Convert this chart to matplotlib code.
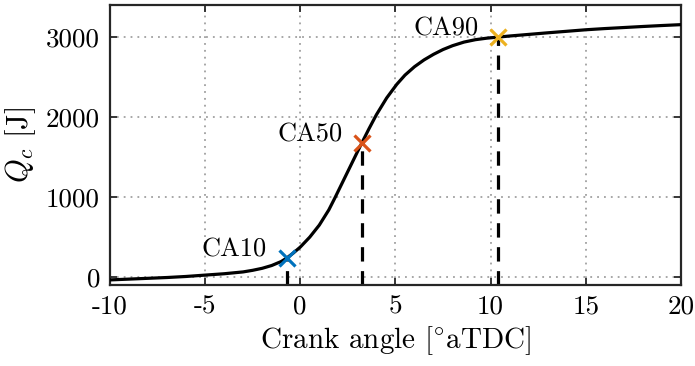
import matplotlib
matplotlib.use("Agg")
import matplotlib.pyplot as plt

plt.rcParams['font.family'] = 'serif'
plt.rcParams['font.serif'] = ['cmr10']
plt.rcParams['mathtext.fontset'] = 'cm'
plt.rcParams['axes.unicode_minus'] = False

# curve
crank = [-10, -9, -8, -7, -6, -5, -4, -3, -2.5, -2, -1.5, -1, -0.7, -0.37, 0, 0.5,
         1.0, 1.5, 1.82, 2.2, 2.6, 3.0, 3.23, 3.6, 4.0, 4.54, 5.07, 5.5, 6.0, 6.5,
         7.0, 7.5, 8.0, 8.6, 9.2, 9.8, 10.37, 11, 12, 13, 14, 15, 16, 17, 18, 19, 20]
qc = [-35, -25, -15, -5, 8, 25, 42, 65, 85, 110, 145, 195, 240, 300, 375, 500,
      650, 840, 990, 1175, 1370, 1565, 1675, 1850, 2030, 2240, 2410, 2525, 2630, 2715,
      2785, 2845, 2893, 2938, 2968, 2987, 3000, 3014, 3034, 3054, 3073, 3092, 3107, 3120, 3133, 3145, 3156]

# combustion points
ca_names = ['CA10', 'CA50', 'CA90']
ca_x = [-0.72, 3.23, 10.37]
ca_q = [240, 1675, 3000]
ca_colors = ['#0072BD', '#D95319', '#EDB120']

xticks = [-10, -5, 0, 5, 10, 15, 20]
xticklabels = ['-10', '-5', '0', '5', '10', '15', '20']
yticks = [0, 1000, 2000, 3000]

fig = plt.figure(figsize=(6.95, 3.66), dpi=100)
ax = fig.add_axes([0.158, 0.221, 0.822, 0.765])

ymin, ymax = -100, 3400

for xv, qv in zip(ca_x, ca_q):
    ax.plot([xv, xv], [ymin, qv], color='black', lw=2.3, linestyle=(0, (4.5, 3)), zorder=2)

ax.plot(crank, qc, color='black', lw=2.3, zorder=3, solid_joinstyle='round')

for name, xv, qv, c in zip(ca_names, ca_x, ca_q, ca_colors):
    ax.plot(xv, qv, marker='x', color=c, markersize=12, mew=2.3, zorder=4)
    ax.annotate(name, xy=(xv, qv), xytext=(-14, 6), textcoords='offset points',
                ha='right', va='center', fontsize=19)

ax.set_xlim(-10, 20)
ax.set_ylim(ymin, ymax)
ax.set_xticks(xticks)
ax.set_xticklabels(xticklabels)
ax.set_yticks(yticks)
ax.grid(True, linestyle=(0, (1, 2.8)), color='#a0a0a0', lw=1.3)
ax.tick_params(direction='in', top=True, right=True, length=5, width=1.3,
               labelsize=19.5, color='#262626', pad=7)
for s in ax.spines.values():
    s.set_linewidth(1.6)
    s.set_color('#262626')

ax.set_xlabel(r'Crank angle [$^{\circ}$aTDC]', fontsize=21, labelpad=4)
ax.set_ylabel(r'$Q_c$ [J]', fontsize=22, labelpad=6)

fig.savefig('out.png', dpi=100)
